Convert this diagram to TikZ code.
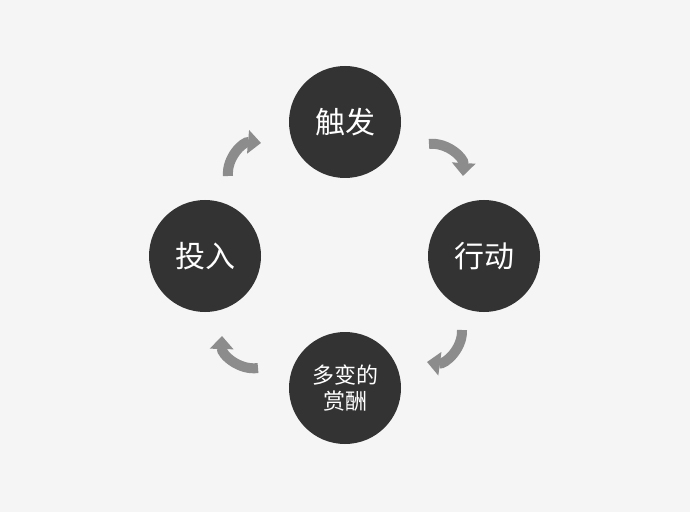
\documentclass[tikz,border=0pt]{standalone}
\usepackage{fontspec}
\newfontfamily\cjk{Noto Sans CJK SC}
\usetikzlibrary{arrows.meta}
\begin{document}
\begin{tikzpicture}[x=1pt,y=1pt,
  bub/.style={circle,fill=black!80,minimum size=112pt,inner sep=0pt,text=white,font=\cjk\fontsize{30}{32}\selectfont,align=center},
  cyc/.style={line width=10pt,draw=black!45,-{Triangle[width=23pt,length=13pt]},bend left=50}]
\fill[black!4] (0,0) rectangle (690,512);
\node[bub] (t) at (345,390) {触发};
\node[bub] (r) at (484,256) {行动};
\node[bub,font=\cjk\fontsize{22}{26}\selectfont] (b) at (345,124) {多变的\\赏酬};
\node[bub] (l) at (205,256) {投入};
\coordinate (a1) at (429,368); \coordinate (a2) at (463,336);
\coordinate (b1) at (462,182); \coordinate (b2) at (427,150);
\coordinate (c1) at (258,144); \coordinate (c2) at (222,176);
\coordinate (d1) at (228,336); \coordinate (d2) at (261,369);
\draw[cyc] (a1) to (a2);
\draw[cyc] (b1) to (b2);
\draw[cyc] (c1) to (c2);
\draw[cyc] (d1) to (d2);
\end{tikzpicture}
\end{document}
